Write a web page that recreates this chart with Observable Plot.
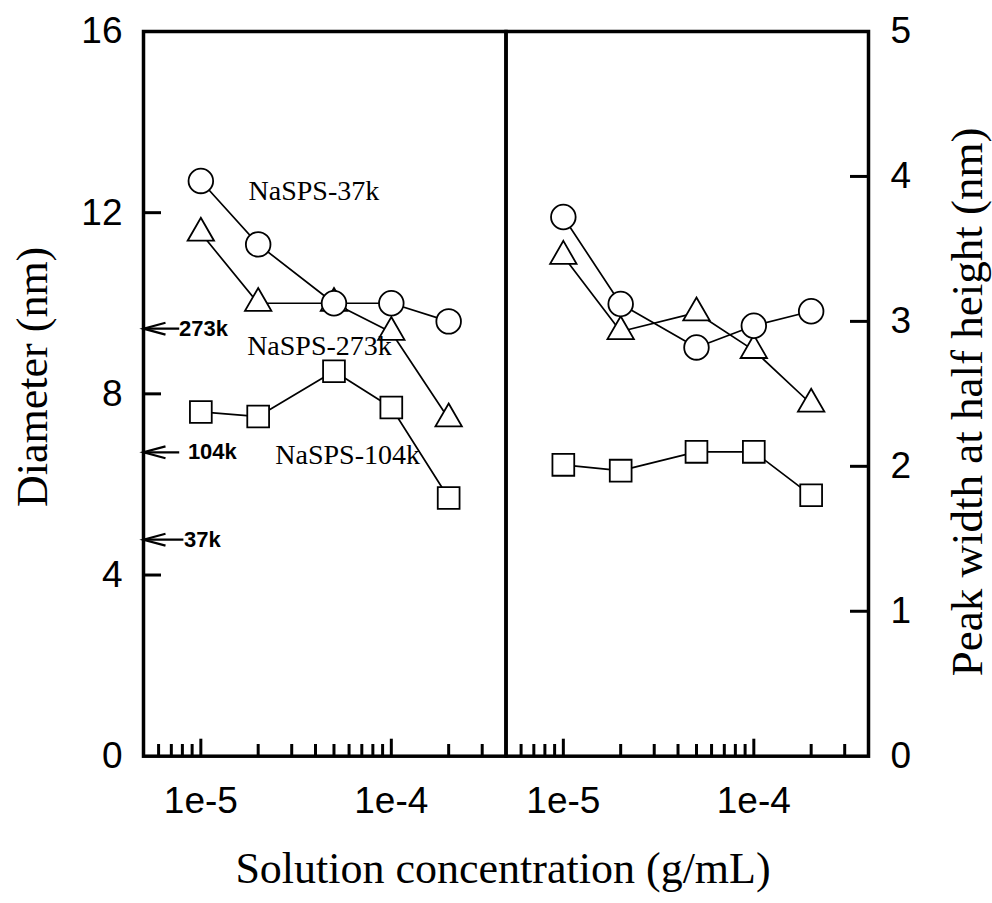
<!DOCTYPE html>
<html>
<head>
<meta charset="utf-8">
<script src="https://cdn.jsdelivr.net/npm/d3@7"></script>
<script src="https://cdn.jsdelivr.net/npm/@observablehq/plot@0.6"></script>
<style>
  html, body { margin: 0; padding: 0; background: #ffffff; }
  #chart { position: relative; width: 992px; height: 903px; overflow: hidden; background: #ffffff; }
  #chart svg { position: absolute; left: 0; top: 0; }
</style>
</head>
<body>
<div id="chart"></div>
<script>
// ---------- data ----------
const concentration = [1e-5, 2e-5, 5e-5, 1e-4, 2e-4];

const diameter37k  = [12.7, 11.3, 10.0, 10.0, 9.6];
const diameter273k = [11.55, 10.0, 10.0, 9.36, 7.45];
const diameter104k = [7.6, 7.5, 8.5, 7.7, 5.7];

const width37k  = [3.72, 3.12, 2.82, 2.97, 3.07];
const width273k = [3.45, 2.93, 3.06, 2.80, 2.43];
const width104k = [2.01, 1.97, 2.10, 2.10, 1.80];

const xDomain = [5e-6, 4e-4];
const xMajorTicks = [1e-5, 1e-4];
const xMinorTicks = [6e-6, 7e-6, 8e-6, 9e-6, 2e-5, 3e-5, 4e-5, 5e-5, 6e-5, 7e-5, 8e-5, 9e-5, 2e-4, 3e-4];

const leftYDomain = [0, 16];
const leftYTicks = [0, 4, 8, 12, 16];
const rightYDomain = [0, 5];
const rightYTicks = [0, 1, 2, 3, 4, 5];

// reference molecular-weight arrows on the diameter axis
const refLabels = ["273k", "104k", "37k"];
const refDiameters = [9.44, 6.71, 4.78];
const refArrowStart = [7.7e-6, 7.7e-6, 8.1e-6];
const refLabelX = [7.68e-6, 8.55e-6, 8.15e-6];

// series annotations (left panel)
const seriesLabels = ["NaSPS-37k", "NaSPS-273k", "NaSPS-104k"];
const seriesLabelX = [1.78e-5, 1.75e-5, 2.46e-5];
const seriesLabelY = [12.27, 8.85, 6.456];

const leftTitle = "Diameter (nm)";
const rightTitle = "Peak width at half height (nm)";
const xTitle = "Solution concentration (g/mL)";

// ---------- layout ----------
const W = 992, H = 903;
const frameTop = 31, frameBottom = 755.7;
const xLeft = 143, xMid = 505.5, xRight = 868;
const frameH = frameBottom - frameTop;
const panelW = xMid - xLeft;

const SERIF = "Liberation Serif, Times New Roman, serif";
const SANS = "Liberation Sans, Arial, sans-serif";

const rows = (vals) => concentration.map((c, i) => ({c, v: vals[i]}));

// open "V" arrowhead pointing left, tip at the symbol origin
const arrowHead = {
  draw(context, size) {
    const rad = Math.sqrt(size / Math.PI);
    const L = 2 * rad, w = 0.27 * L;
    context.moveTo(L, -w);
    context.lineTo(0, 0);
    context.lineTo(L, w);
  }
};

function seriesMarks(s37, s273, s104) {
  const r37 = rows(s37), r273 = rows(s273), r104 = rows(s104);
  const lineOpts = {x: "c", y: "v", stroke: "black", strokeWidth: 1.7};
  const dotOpts = {x: "c", y: "v", fill: "white", stroke: "black", strokeWidth: 1.8};
  return [
    Plot.line(r37, lineOpts),
    Plot.line(r273, lineOpts),
    Plot.line(r104, lineOpts),
    Plot.dot(r104, {...dotOpts, symbol: "square", r: 12.3}),
    Plot.dot(r273, {...dotOpts, symbol: "triangle", r: 9.8}),
    Plot.dot(r37, {...dotOpts, symbol: "circle", r: 12.3})
  ];
}

function xTickMarks() {
  return [
    Plot.tickX(xMajorTicks, {x: d => d, stroke: "black", strokeWidth: 3, insetTop: frameH - 17}),
    Plot.tickX(xMinorTicks, {x: d => d, stroke: "black", strokeWidth: 3, insetTop: frameH - 11.7}),
    Plot.axisX(xMajorTicks, {
      tickSize: 0, tickPadding: 31, fontSize: 37, fontFamily: SANS, label: null,
      tickFormat: d => "1e" + Math.round(Math.log10(d))
    })
  ];
}

// ---------- left panel ----------
const refRows = refLabels.map((label, i) => ({
  label, v: refDiameters[i], from: refArrowStart[i], lx: refLabelX[i]
}));
const annRows = seriesLabels.map((t, i) => ({t, x: seriesLabelX[i], y: seriesLabelY[i]}));

const left = Plot.plot({
  width: W, height: H,
  marginTop: frameTop, marginBottom: H - frameBottom,
  marginLeft: xLeft, marginRight: W - xMid,
  style: {background: "transparent", fontFamily: SANS, color: "black", overflow: "visible"},
  x: {type: "log", domain: xDomain},
  y: {domain: leftYDomain},
  marks: [
    ...xTickMarks(),
    Plot.tickY(leftYTicks.slice(1, -1), {y: d => d, stroke: "black", strokeWidth: 3, insetRight: panelW - 18}),
    Plot.axisY(leftYTicks, {anchor: "left", tickSize: 0, tickPadding: 21, fontSize: 37, fontFamily: SANS,
      label: null, tickFormat: d => String(d)}),
    Plot.frame({stroke: "black", strokeWidth: 3.5}),
    ...seriesMarks(diameter37k, diameter273k, diameter104k),
    Plot.text(annRows, {x: "x", y: "y", text: "t", textAnchor: "start", lineAnchor: "bottom",
      fontFamily: SERIF, fontSize: 28, fill: "black"}),
    Plot.link(refRows, {x1: "from", x2: () => xDomain[0], y1: "v", y2: "v",
      stroke: "black", strokeWidth: 2.2}),
    Plot.dot(refRows, {x: () => xDomain[0], y: "v", symbol: arrowHead, r: 11,
      fill: "none", stroke: "black", strokeWidth: 2.2}),
    Plot.text(refRows, {x: "lx", y: "v", text: "label", textAnchor: "start", lineAnchor: "middle",
      fontFamily: SANS, fontWeight: "bold", fontSize: 22, fill: "black"}),
    Plot.text([leftTitle], {text: d => d, frameAnchor: "left", rotate: -90, dx: -97, dy: -17,
      textAnchor: "middle", lineAnchor: "bottom", fontFamily: SERIF, fontSize: 44, fill: "black"}),
    Plot.text([xTitle], {text: d => d, frameAnchor: "bottom-right", textAnchor: "middle", lineAnchor: "bottom",
      dy: 127, dx: -3, fontFamily: SERIF, fontSize: 44, fill: "black"})
  ]
});

// ---------- right panel ----------
const right = Plot.plot({
  width: W, height: H,
  marginTop: frameTop, marginBottom: H - frameBottom,
  marginLeft: xMid, marginRight: W - xRight,
  style: {background: "transparent", fontFamily: SANS, color: "black", overflow: "visible"},
  x: {type: "log", domain: xDomain},
  y: {domain: rightYDomain},
  marks: [
    ...xTickMarks(),
    Plot.tickY(rightYTicks.slice(1, -1), {y: d => d, stroke: "black", strokeWidth: 3, insetLeft: (xRight - xMid) - 18}),
    Plot.axisY(rightYTicks, {anchor: "right", tickSize: 0, tickPadding: 22, fontSize: 37, fontFamily: SANS,
      label: null, tickFormat: d => String(d)}),
    Plot.frame({stroke: "black", strokeWidth: 3.5}),
    ...seriesMarks(width37k, width273k, width104k),
    Plot.text([rightTitle], {text: d => d, frameAnchor: "right", rotate: -90, dx: 113, dy: 8,
      textAnchor: "middle", lineAnchor: "bottom", fontFamily: SERIF, fontSize: 45, fill: "black"})
  ]
});

const chart = document.getElementById("chart");
chart.appendChild(left);
chart.appendChild(right);
</script>
</body>
</html>
